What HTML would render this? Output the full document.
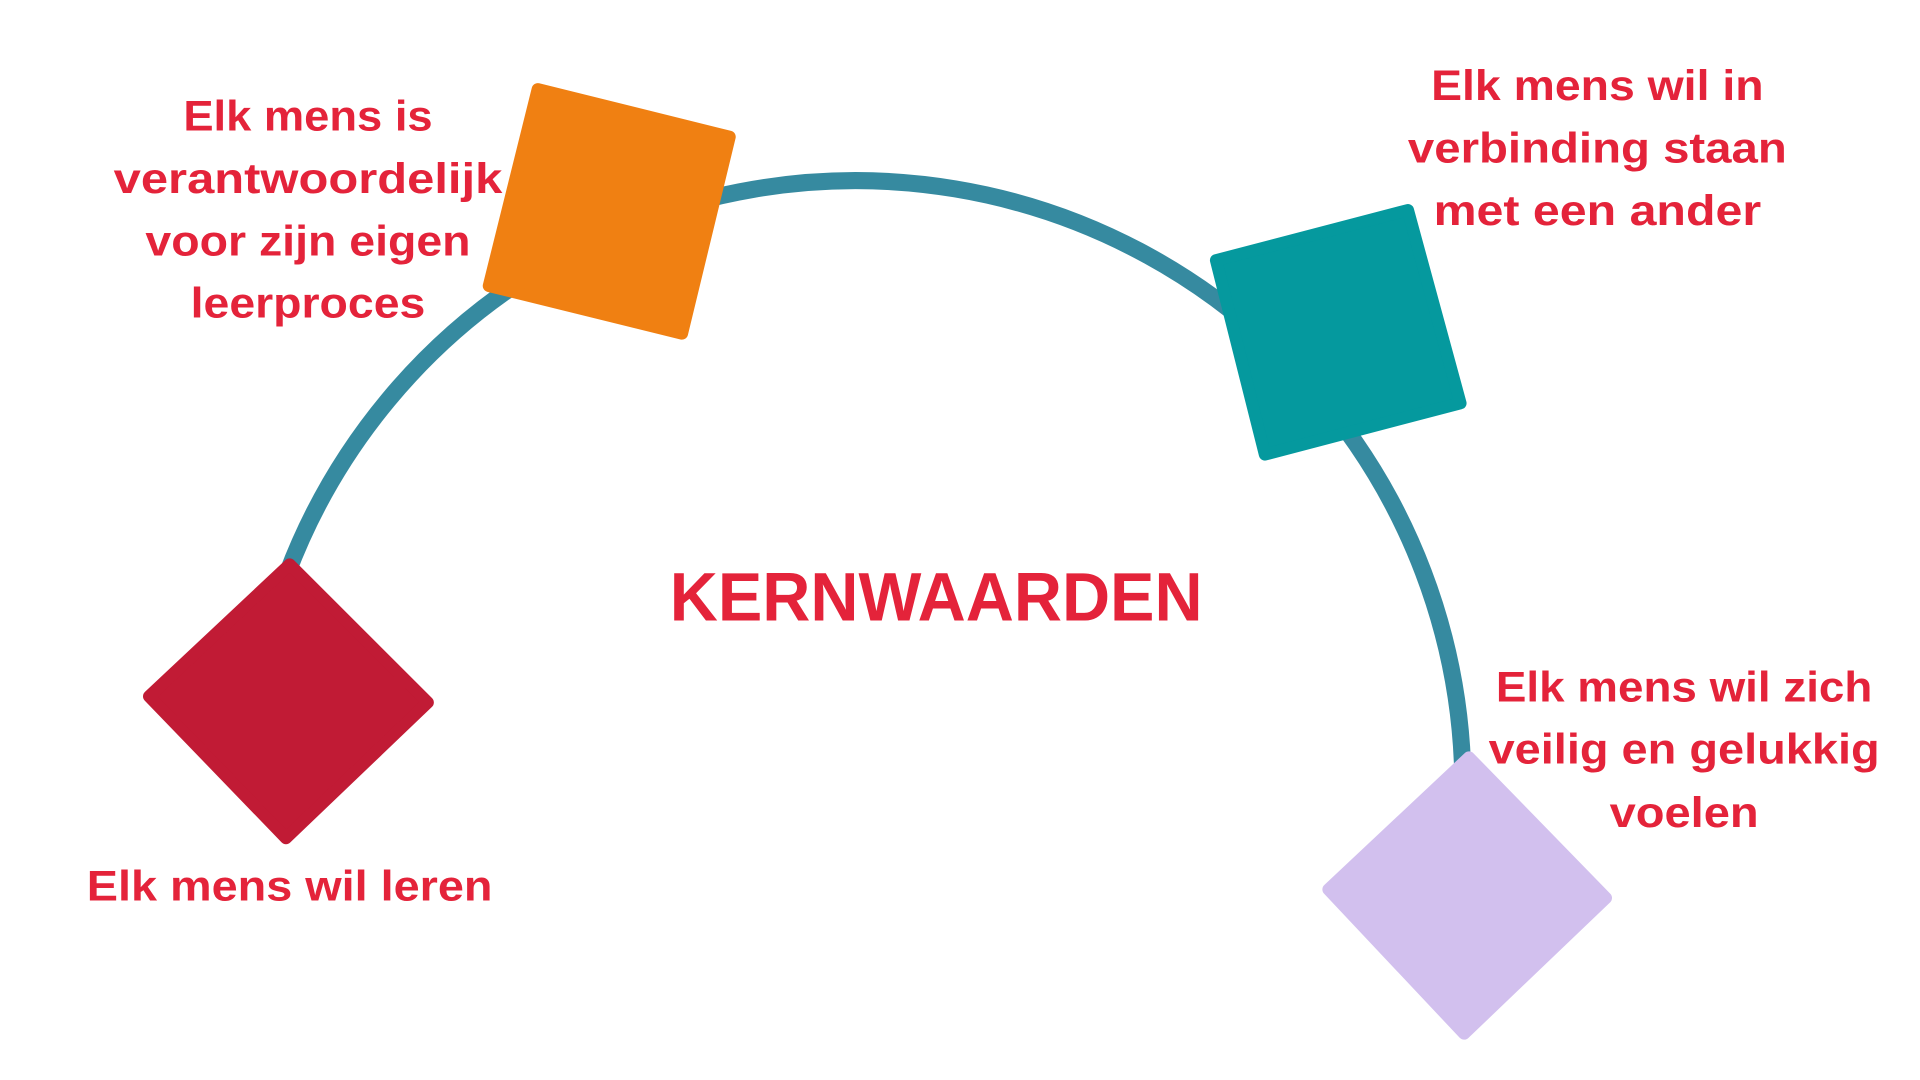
<!DOCTYPE html>
<html><head><meta charset="utf-8"><style>html,body{margin:0;padding:0;background:#fff;width:1920px;height:1080px;overflow:hidden}</style></head>
<body>
<svg width="1920" height="1080" viewBox="0 0 1571 884" preserveAspectRatio="none" xmlns="http://www.w3.org/2000/svg">
<path d="M234.8,470 A497,497 0 0 1 1196.8,630" fill="none" stroke="#368aa0" stroke-width="14"/>
<polygon points="440,73 597,112 558,273 400,234" fill="#f08012" stroke="#f08012" stroke-width="10" stroke-linejoin="round"/>
<polygon points="995,213 1152,172 1195,330 1035,372" fill="#05999e" stroke="#05999e" stroke-width="10" stroke-linejoin="round"/>
<polygon points="237,462 350,575 234,686 122,570" fill="#c11b35" stroke="#c11b35" stroke-width="10" stroke-linejoin="round"/>
<polygon points="1202,620 1314,735 1198,846 1087,728" fill="#d2c0ee" stroke="#d2c0ee" stroke-width="10" stroke-linejoin="round"/>
<g font-family="Liberation Sans, sans-serif" font-weight="bold" font-size="35" fill="#e4233a" text-anchor="middle">
<text x="252" y="107" textLength="204" lengthAdjust="spacingAndGlyphs">Elk mens is</text>
<text x="252" y="158" textLength="318" lengthAdjust="spacingAndGlyphs">verantwoordelijk</text>
<text x="252" y="209" textLength="266" lengthAdjust="spacingAndGlyphs">voor zijn eigen</text>
<text x="252" y="260" textLength="192" lengthAdjust="spacingAndGlyphs">leerproces</text>
<text x="1307" y="82" textLength="272" lengthAdjust="spacingAndGlyphs">Elk mens wil in</text>
<text x="1307" y="133" textLength="310" lengthAdjust="spacingAndGlyphs">verbinding staan</text>
<text x="1307" y="184" textLength="268" lengthAdjust="spacingAndGlyphs">met een ander</text>
<text x="1378" y="574" textLength="308" lengthAdjust="spacingAndGlyphs">Elk mens wil zich</text>
<text x="1378" y="625" textLength="320" lengthAdjust="spacingAndGlyphs">veilig en gelukkig</text>
<text x="1378" y="677" textLength="122" lengthAdjust="spacingAndGlyphs">voelen</text>
<text x="237" y="737" textLength="332" lengthAdjust="spacingAndGlyphs">Elk mens wil leren</text>
<text x="766" y="508" font-size="56" textLength="436" lengthAdjust="spacingAndGlyphs">KERNWAARDEN</text>
</g>
</svg>
</body></html>
